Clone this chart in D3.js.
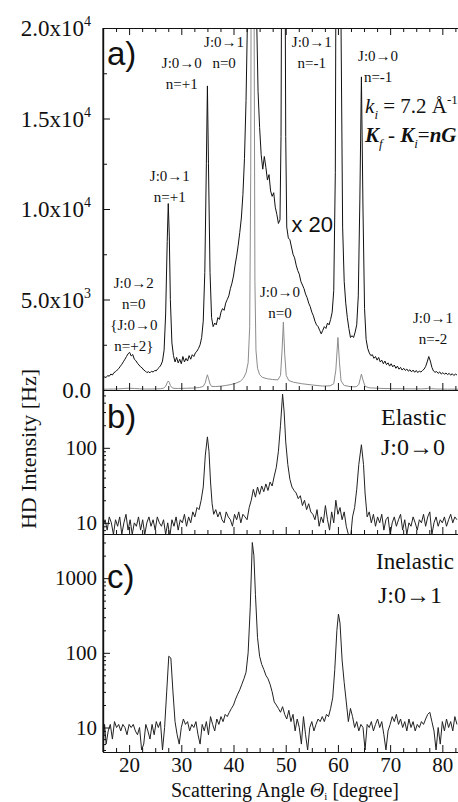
<!DOCTYPE html>
<html>
<head>
<meta charset="utf-8">
<script src="https://cdn.jsdelivr.net/npm/d3@7"></script>
<style>
    body { margin: 0; background: #fff; }
    svg { display: block; }
    .serif { font-family: "Liberation Serif", "Times New Roman", serif; fill: #111; }
    .sans { font-family: "Liberation Sans", Arial, sans-serif; fill: #111; }
    .axis path, .axis line { stroke: #111; }
</style>
</head>
<body>
<svg id="chart" width="458" height="802"></svg>
<script>
/**
 * Data.
 */
const angleDomain = [15, 83];
const angleTicks = [20, 30, 40, 50, 60, 70, 80];
const linTicks = [0, 5000, 10000, 15000, 20000];
const linTickMantissa = ['0.0', '5.0x10', '1.0x10', '1.5x10', '2.0x10'];
const linTickExponent = ['', '3', '4', '4', '4'];
const elasticTicks = [10, 100];
const inelasticTicks = [10, 100, 1000];

// Panel a: intensity multiplied by 20 (noisy black trace), [angle, Hz]
const hdTimes20 = [
    [15.0,650],[15.3,720],[15.6,690],[15.9,800],[16.2,760],[16.5,880],[16.8,830],[17.1,960],[17.4,1010],[17.7,1100],
    [18.0,1180],[18.3,1300],[18.6,1420],[18.9,1560],[19.2,1700],[19.5,1850],[19.8,2000],[20.1,2080],[20.4,1880],[20.7,1960],
    [21.0,1700],[21.3,1620],[21.6,1480],[21.9,1380],[22.2,1280],[22.5,1220],[22.8,1100],[23.1,1050],[23.4,960],[23.7,1010],
    [24.0,950],[24.3,1040],[24.6,990],[24.9,1080],[25.2,1060],[25.5,1180],[25.8,1260],[26.1,1380],[26.4,1600],[26.7,2200],
    [27.0,4200],[27.3,8200],[27.5,10300],[27.7,8500],[27.9,5000],[28.2,2600],[28.5,1900],[28.8,1550],[29.1,1800],[29.4,1500],
    [29.7,1700],[30.0,1450],[30.3,1850],[30.6,1550],[30.9,1750],[31.2,1600],[31.5,1900],[31.8,1700],[32.1,1950],[32.4,1850],
    [32.7,2050],[33.0,2150],[33.3,2300],[33.6,2500],[33.9,2900],[34.2,3800],[34.5,6500],[34.8,12500],[35.0,16800],[35.2,12500],
    [35.5,6500],[35.8,4000],[36.1,3500],[36.4,3700],[36.7,3600],[37.0,4000],[37.3,3900],[37.6,4300],[37.9,4500],[38.2,4400],
    [38.5,4800],[38.8,5000],[39.1,5200],[39.4,5600],[39.7,5900],[40.0,6300],[40.3,6900],[40.6,7400],[40.9,8000],[41.2,8700],
    [41.5,9500],[41.8,10800],[42.1,12800],[42.4,16000],[42.7,21000],[43.0,30000],[43.4,50000],[43.8,50000],[44.1,30000],[44.4,21000],
    [44.7,16500],[45.0,14500],[45.3,13000],[45.6,12200],[45.9,12900],[46.2,12300],[46.5,11600],[46.8,11900],[47.1,11000],[47.4,10700],
    [47.7,10900],[48.0,10100],[48.3,9700],[48.6,9200],[48.9,9400],[49.1,14000],[49.3,30000],[49.5,70000],[49.8,30000],[50.0,14000],
    [50.2,9000],[50.5,8400],[50.8,8300],[51.1,7900],[51.4,7500],[51.7,7300],[52.0,6900],[52.3,6600],[52.6,6400],[52.9,6000],
    [53.2,5800],[53.5,5600],[53.8,5300],[54.1,5100],[54.4,4800],[54.7,4600],[55.0,4300],[55.3,4100],[55.6,3800],[55.9,3600],
    [56.2,3500],[56.5,3300],[56.8,3100],[57.1,3300],[57.4,3500],[57.7,3400],[58.0,3700],[58.3,3600],[58.6,3900],[58.9,4300],
    [59.2,5500],[59.5,12000],[59.8,40000],[60.0,58000],[60.3,45000],[60.6,20000],[60.9,9000],[61.2,6000],[61.5,4800],[61.8,4000],
    [62.1,3400],[62.4,2900],[62.7,3000],[63.0,2900],[63.3,3200],[63.6,3600],[63.9,5200],[64.2,10500],[64.5,17300],[64.8,10000],
    [65.1,4500],[65.4,2800],[65.7,2300],[66.0,2050],[66.3,1900],[66.6,1950],[66.9,1750],[67.2,1850],[67.5,1650],[67.8,1800],
    [68.1,1550],[68.4,1650],[68.7,1450],[69.0,1600],[69.3,1400],[69.6,1500],[69.9,1320],[70.2,1450],[70.5,1280],[70.8,1380],
    [71.1,1200],[71.4,1320],[71.7,1150],[72.0,1250],[72.3,1100],[72.6,1200],[72.9,1080],[73.2,1160],[73.5,1040],[73.8,1120],
    [74.1,1000],[74.4,1100],[74.7,980],[75.0,1080],[75.3,960],[75.6,1050],[75.9,990],[76.2,1080],[76.5,1150],[76.8,1300],
    [77.1,1550],[77.4,1850],[77.7,1600],[78.0,1250],[78.3,1050],[78.6,980],[78.9,1020],[79.2,920],[79.5,1000],[79.8,880],
    [80.1,960],[80.4,870],[80.7,940],[81.0,850],[81.3,920],[81.6,820],[81.9,900],[82.2,800],[82.5,880],[82.8,830]
];

// Panel a: raw intensity (grey trace), [angle, Hz]
const hdRaw = [
    [15,40],[16,50],[17,55],[18,65],[19,85],[20,100],[21,85],[22,65],[23,55],[24,55],
    [25,60],[26,70],[26.6,100],[27.0,200],[27.3,400],[27.5,500],[27.7,420],[27.9,250],[28.2,130],[28.6,90],
    [29.5,85],[31,95],[32.5,110],[33.5,140],[34.2,200],[34.6,400],[34.8,650],[35.0,840],[35.2,650],[35.5,330],
    [35.8,200],[36.5,190],[37.5,210],[38.5,250],[39.5,300],[40.5,380],[41.3,480],[41.9,650],[42.4,950],[42.8,1500],
    [43.1,3500],[43.3,12000],[43.5,40000],[43.7,60000],[43.9,25000],[44.1,6000],[44.3,2200],[44.6,1200],[45.0,850],[45.5,700],
    [46.5,620],[47.5,580],[48.5,560],[49.0,800],[49.3,2200],[49.55,3750],[49.8,2000],[50.1,800],[50.6,520],[51.5,430],
    [53,350],[55,280],[57,220],[58.5,230],[59.2,350],[59.6,1100],[60.0,2900],[60.3,1500],[60.6,500],[61.2,250],
    [62.5,180],[63.5,180],[64.0,300],[64.3,650],[64.5,880],[64.8,550],[65.2,200],[66,120],[68,90],[70,75],
    [73,65],[76,60],[77.1,80],[77.5,120],[77.9,75],[79,55],[81,50],[83,45]
];

// Panel b: elastic J:0->0, [angle, Hz]
const elastic = [
    [15.0,9],[15.4,11],[15.8,8],[16.2,12],[16.6,10],[17.0,7],[17.4,11],[17.8,9],[18.2,12],[18.6,7],
    [19.0,10],[19.4,13],[19.8,8],[20.2,11],[20.6,7],[21.0,10],[21.4,9],[21.8,12],[22.2,8],[22.6,11],
    [23.0,7],[23.4,10],[23.8,12],[24.2,9],[24.6,11],[25.0,8],[25.4,12],[25.8,10],[26.2,9],[26.6,11],
    [27.0,7],[27.4,10],[27.8,6.5],[28.2,11],[28.6,9],[29.0,12],[29.4,8],[29.8,11],[30.2,10],[30.6,13],
    [31.0,9],[31.4,12],[31.8,10],[32.2,14],[32.6,12],[33.0,16],[33.4,15],[33.8,20],[34.2,30],[34.6,80],
    [35.0,140],[35.3,90],[35.6,35],[35.9,18],[36.2,13],[36.6,15],[37.0,12],[37.4,14],[37.8,11],[38.2,10],
    [38.6,14],[39.0,12],[39.4,11],[39.8,9],[40.2,13],[40.6,11],[41.0,14],[41.4,10],[41.8,13],[42.2,12],
    [42.6,11],[43.0,16],[43.4,20],[43.8,28],[44.2,22],[44.6,30],[45.0,24],[45.4,31],[45.8,26],[46.2,33],
    [46.6,27],[47.0,35],[47.4,31],[47.8,42],[48.2,55],[48.6,90],[49.0,200],[49.4,520],[49.7,300],[50.0,120],
    [50.4,60],[50.8,38],[51.2,30],[51.6,27],[52.0,25],[52.4,21],[52.8,23],[53.2,17],[53.6,20],[54.0,15],
    [54.4,18],[54.8,14],[55.2,13],[55.6,11],[56.0,15],[56.4,9],[56.8,12],[57.2,10],[57.6,17],[58.0,11],
    [58.4,8],[58.8,14],[59.2,10],[59.6,20],[60.0,13],[60.4,16],[60.8,11],[61.2,14],[61.6,9],[62.0,7],
    [62.4,6],[62.8,12],[63.2,16],[63.6,28],[64.0,60],[64.5,110],[64.9,60],[65.2,25],[65.6,12],[66.0,14],
    [66.4,10],[66.8,13],[67.2,9],[67.6,12],[68.0,10],[68.4,13],[68.8,8],[69.2,11],[69.6,12],[70.0,7],
    [70.4,10],[70.8,12],[71.2,9],[71.6,11],[72.0,13],[72.4,8],[72.8,11],[73.2,7],[73.6,10],[74.0,9],
    [74.4,12],[74.8,10],[75.2,8],[75.6,11],[76.0,10],[76.4,13],[76.8,9],[77.2,12],[77.6,14],[78.0,7],
    [78.4,10],[78.8,12],[79.2,9],[79.6,11],[80.0,10],[80.4,12],[80.8,9],[81.2,11],[81.6,13],[82.0,10],
    [82.4,12],[82.8,11]
];

// Panel c: inelastic J:0->1, [angle, Hz]
const inelastic = [
    [15.0,5],[15.3,11],[15.6,6],[16.0,9],[16.4,11],[16.8,7],[17.2,12],[17.6,10],[18.0,11],[18.4,9],
    [18.8,11],[19.2,10],[19.6,8],[20.0,11],[20.4,10],[20.8,11],[21.2,9],[21.6,8],[22.0,10],[22.4,5],
    [22.8,6],[23.2,11],[23.6,9],[24.0,7],[24.4,11],[24.8,8],[25.2,12],[25.6,10],[26.0,12],[26.4,5],
    [26.8,10],[27.2,30],[27.6,90],[28.0,85],[28.4,30],[28.8,12],[29.2,8],[29.6,6],[30.0,10],[30.4,13],
    [30.8,11],[31.2,12],[31.6,9],[32.0,11],[32.4,10],[32.8,12],[33.2,8],[33.6,6],[34.0,11],[34.4,9],
    [34.8,12],[35.2,8],[35.6,14],[36.0,11],[36.4,9],[36.8,13],[37.2,11],[37.6,14],[38.0,12],[38.4,15],
    [38.8,14],[39.2,16],[39.6,18],[40.0,20],[40.4,24],[40.8,28],[41.2,32],[41.6,38],[42.0,45],[42.4,55],
    [42.8,100],[43.2,400],[43.6,3000],[43.9,2000],[44.2,600],[44.6,160],[45.0,90],[45.4,70],[45.8,60],[46.2,50],
    [46.6,45],[47.0,38],[47.4,30],[47.8,22],[48.2,20],[48.6,18],[49.0,16],[49.4,19],[49.8,15],[50.2,13],
    [50.6,17],[51.0,12],[51.4,15],[51.8,9],[52.2,13],[52.6,10],[53.0,6],[53.4,14],[53.8,8],[54.2,5],
    [54.6,10],[55.0,12],[55.4,9],[55.8,11],[56.2,13],[56.6,12],[57.0,14],[57.4,12],[57.8,15],[58.2,14],
    [58.6,18],[59.0,25],[59.4,60],[59.8,200],[60.1,330],[60.4,250],[60.8,80],[61.2,40],[61.6,22],[62.0,12],
    [62.4,18],[62.8,14],[63.2,10],[63.6,12],[64.0,9],[64.4,11],[64.8,10],[65.2,5],[65.6,11],[66.0,10],
    [66.4,12],[66.8,9],[67.2,11],[67.6,13],[68.0,10],[68.4,12],[68.8,8],[69.2,5],[69.6,9],[70.0,11],
    [70.4,14],[70.8,12],[71.2,15],[71.6,11],[72.0,13],[72.4,10],[72.8,12],[73.2,9],[73.6,13],[74.0,10],
    [74.4,12],[74.8,9],[75.2,11],[75.6,10],[76.0,12],[76.4,11],[76.8,13],[77.2,15],[77.6,16],[78.0,12],
    [78.4,9],[78.8,5],[79.2,10],[79.6,6],[80.0,12],[80.4,9],[80.8,13],[81.2,10],[81.6,12],[82.0,9],
    [82.4,14],[82.8,11]
];

// Peak assignments in panel a: [angle, Hz of first line, lines]
const peakLabels = [
    [38.2, 18950, ['J:0\u21921', 'n=0']],
    [30.1, 17790, ['J:0\u21920', 'n=+1']],
    [55.0, 18950, ['J:0\u21921', 'n=-1']],
    [67.7, 18180, ['J:0\u21920', 'n=-1']],
    [27.8, 11550, ['J:0\u21921', 'n=+1']],
    [20.9, 5640, ['J:0\u21922', 'n=0', '{J:0\u21920', 'n=+2}']],
    [48.9, 5140, ['J:0\u21920', 'n=0']],
    [78.2, 3700, ['J:0\u21921', 'n=-2']]
];

/**
 * Visual configs.
 */
const plotLeft = 103, plotRight = 458,
    panelA = { top: 28, bottom: 390 },
    panelB = { top: 390, bottom: 534 },
    panelC = { top: 534, bottom: 752 },
    lineGap = 21;

const svg = d3.select('#chart');

const x = d3.scaleLinear().domain(angleDomain).range([plotLeft, plotRight]);
const yA = d3.scaleLinear().domain([0, 20000]).range([panelA.bottom, panelA.top]);
const yB = d3.scaleLog().domain([7.1, 590]).range([panelB.bottom, panelB.top]);
const yC = d3.scaleLog().domain([4.7, 3900]).range([panelC.bottom, panelC.top]);

const minorAngles = d3.range(17.5, 83, 2.5).filter(v => v % 10 !== 0);

function addClip(id, panel) {
    svg.append('clipPath').attr('id', id)
        .append('rect')
        .attr('x', plotLeft).attr('y', panel.top)
        .attr('width', plotRight - plotLeft).attr('height', panel.bottom - panel.top);
}

function drawTrace(data, y, clipId, color) {
    const line = d3.line().x(d => x(d[0])).y(d => y(d[1]));
    svg.append('path')
        .datum(data)
        .attr('clip-path', 'url(#' + clipId + ')')
        .attr('fill', 'none')
        .attr('stroke', color)
        .attr('stroke-width', 1)
        .attr('stroke-linejoin', 'round')
        .attr('d', line);
}

function drawAngleAxis(yPos, inward, withLabels) {
    const g = svg.append('g').attr('class', 'axis').attr('transform', 'translate(0,' + yPos + ')');
    const gen = inward > 0 ? d3.axisTop : d3.axisBottom;
    g.call(gen(x).tickValues(minorAngles).tickSize(-4).tickSizeOuter(0).tickFormat(''));
    const major = svg.append('g').attr('class', 'axis').attr('transform', 'translate(0,' + yPos + ')')
        .call(gen(x).tickValues(angleTicks).tickSize(-7).tickSizeOuter(0).tickPadding(5)
            .tickFormat(withLabels ? d3.format('d') : ''));
    major.selectAll('text').attr('class', 'serif').attr('font-size', 21);
    svg.selectAll('.axis path').attr('stroke-width', 1.2);
}

function drawLogAxis(y, labels) {
    const [lo, hi] = y.domain();
    const minor = [];
    for (let dec = 1; dec <= 1000; dec *= 10) {
        for (let m = 2; m <= 9; m++) {
            const v = m * dec;
            if (v > lo && v < hi) minor.push(v);
        }
    }
    svg.append('g').attr('class', 'axis').attr('transform', 'translate(' + plotLeft + ',0)')
        .call(d3.axisLeft(y).tickValues(minor).tickSize(-3).tickSizeOuter(0).tickFormat(''));
    const g = svg.append('g').attr('class', 'axis').attr('transform', 'translate(' + plotLeft + ',0)')
        .call(d3.axisLeft(y).tickValues(labels).tickSize(-7).tickSizeOuter(0).tickPadding(6).tickFormat(d3.format('d')));
    g.selectAll('text').attr('class', 'serif').attr('font-size', 21);
}

function drawText(xPos, yPos, str, cls, size, anchor) {
    return svg.append('text')
        .attr('class', cls)
        .attr('x', xPos).attr('y', yPos)
        .attr('font-size', size)
        .attr('text-anchor', anchor || 'start')
        .text(str);
}

/**
 * Panel a.
 */
addClip('clipA', panelA);
drawTrace(hdRaw, yA, 'clipA', '#8c8c8c');
drawTrace(hdTimes20, yA, 'clipA', '#111');

const yAxisA = svg.append('g').attr('class', 'axis').attr('transform', 'translate(' + plotLeft + ',0)');
yAxisA.call(d3.axisLeft(yA).tickValues([2500, 7500, 12500, 17500]).tickSize(-4).tickSizeOuter(0).tickFormat(''));
yAxisA.call(g => g.append('g').call(d3.axisLeft(yA).tickValues(linTicks).tickSize(-7).tickSizeOuter(0).tickFormat('')));

linTicks.forEach((v, i) => {
    const t = svg.append('text').attr('class', 'serif')
        .attr('x', 91).attr('y', yA(v)).attr('dy', '0.35em')
        .attr('font-size', 23).attr('text-anchor', 'end');
    t.append('tspan').text(linTickMantissa[i]);
    if (linTickExponent[i]) {
        t.append('tspan').attr('dy', -10).attr('font-size', 14).text(linTickExponent[i]);
    }
});

drawAngleAxis(panelA.top, 1, false);
drawAngleAxis(panelA.bottom, -1, false);

peakLabels.forEach(([a, v, lines]) => {
    lines.forEach((s, i) => {
        drawText(x(a), yA(v) + i * lineGap, s, 'serif', 15, 'middle');
    });
});

drawText(107, 65, 'a)', 'sans', 33);
drawText(x(51.1), yA(8730), 'x 20', 'sans', 22);

const kLine = svg.append('text').attr('class', 'serif').attr('x', x(65.2)).attr('y', 113).attr('font-size', 21);
kLine.append('tspan').attr('font-style', 'italic').text('k');
kLine.append('tspan').attr('font-style', 'italic').attr('font-size', 13).attr('dy', 6).text('i');
kLine.append('tspan').attr('dy', -6).text(' = 7.2 \u00C5');
kLine.append('tspan').attr('font-size', 13).attr('dy', -9).text('-1');

const gLine = svg.append('text').attr('class', 'serif').attr('x', x(65.2)).attr('y', 142).attr('font-size', 21);
gLine.append('tspan').attr('font-style', 'italic').attr('font-weight', 'bold').text('K');
gLine.append('tspan').attr('font-style', 'italic').attr('font-size', 13).attr('dy', 6).text('f');
gLine.append('tspan').attr('dy', -6).text(' - ');
gLine.append('tspan').attr('font-style', 'italic').attr('font-weight', 'bold').text('K');
gLine.append('tspan').attr('font-style', 'italic').attr('font-size', 13).attr('dy', 6).text('i');
gLine.append('tspan').attr('dy', -6).text('=');
gLine.append('tspan').attr('font-style', 'italic').attr('font-weight', 'bold').text('nG');

/**
 * Panel b.
 */
addClip('clipB', panelB);
drawTrace(elastic, yB, 'clipB', '#222');
drawLogAxis(yB, elasticTicks);
drawAngleAxis(panelB.bottom, -1, false);
drawText(107, 428, 'b)', 'sans', 33);
drawText(381, 425, 'Elastic', 'serif', 24);
drawText(381, 455, 'J:0\u21920', 'serif', 24);

/**
 * Panel c.
 */
addClip('clipC', panelC);
drawTrace(inelastic, yC, 'clipC', '#222');
drawLogAxis(yC, inelasticTicks);
drawAngleAxis(panelC.bottom, -1, true);
drawText(107, 588, 'c)', 'sans', 33);
drawText(376, 569, 'Inelastic', 'serif', 23);
drawText(378, 603, 'J:0\u21921', 'serif', 24);

// Left axis line across all panels
svg.append('line')
    .attr('x1', plotLeft).attr('x2', plotLeft)
    .attr('y1', panelA.top).attr('y2', panelC.bottom)
    .attr('stroke', '#111').attr('stroke-width', 1.2);

/**
 * Axis titles.
 */
svg.append('text').attr('class', 'serif')
    .attr('transform', 'translate(36,449) rotate(-90)')
    .attr('font-size', 22).attr('text-anchor', 'middle')
    .text('HD Intensity [Hz]');

const xTitle = svg.append('text').attr('class', 'serif')
    .attr('x', 285).attr('y', 797).attr('font-size', 20).attr('text-anchor', 'middle');
xTitle.append('tspan').text('Scattering Angle ');
xTitle.append('tspan').attr('font-style', 'italic').text('\u0398');
xTitle.append('tspan').attr('font-size', 11).attr('dy', 3).text('i');
xTitle.append('tspan').attr('dy', -3).text(' [degree]');
</script>
</body>
</html>
